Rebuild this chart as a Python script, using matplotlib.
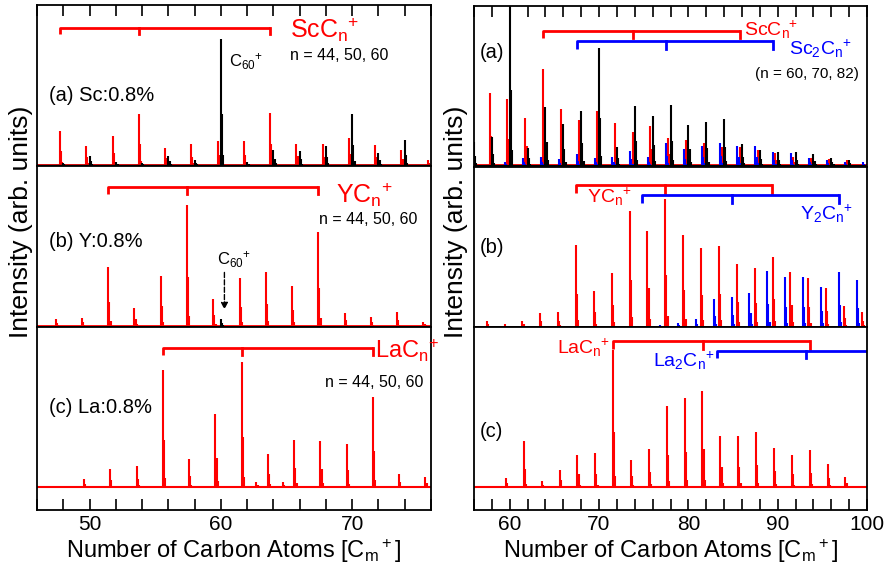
import numpy as np
import matplotlib
matplotlib.use('Agg')
import matplotlib.pyplot as plt
from matplotlib.ticker import MultipleLocator

plt.rcParams['font.family'] = ['Liberation Sans', 'DejaVu Sans']
plt.rcParams['mathtext.fontset'] = 'custom'
plt.rcParams['mathtext.rm'] = 'Liberation Sans'
plt.rcParams['mathtext.it'] = 'Liberation Sans:italic'
plt.rcParams['mathtext.default'] = 'regular'

RED = '#ff0000'
BLUE = '#0000ff'

# metal masses in carbon units (m/12)
sc_shift = 45 / 12
y_shift = 89 / 12
la_shift = 139 / 12
bracket_n = [44, 50, 60]
bracket_n2 = [60, 70, 82]

# ---- left column: (a) Sc, (b) Y, (c) La, peak heights in arb. units
sc_pos = [47.75, 49.75, 51.75, 53.75, 55.75, 57.75, 59.75, 61.75, 63.75,
          65.75, 67.75, 69.75, 71.75, 73.75, 75.75]
sc_hts = [101, 55, 87, 153, 49, 61, 71, 72, 155, 63, 61, 81, 58, 44, 15]
c_pos_a = [48, 50, 52, 54, 56, 58, 60, 62, 64, 66, 68, 70, 72, 74]
c_hts_a = [5, 27, 8, 6, 25, 15, 378, 7, 45, 40, 55, 151, 35, 75]

y_pos = [47.42, 49.42, 51.42, 53.42, 55.42, 57.42, 59.42, 61.42, 63.42,
         65.42, 67.42, 69.42, 71.42, 73.42, 75.42]
y_hts = [19, 24, 175, 52, 149, 362, 80, 142, 161, 119, 280, 39, 27, 42, 12]
c_pos_b = [60]
c_hts_b = [20]

la_pos = [49.58, 51.58, 53.58, 55.58, 57.58, 59.58, 61.58, 62.7, 63.58,
          64.7, 65.58, 67.58, 69.58, 71.58, 73.58, 75.58]
la_hts = [24, 54, 63, 351, 84, 219, 376, 16, 98, 15, 140, 138, 130, 270, 38, 31]

# ---- right column: wider mass range
sc_pos_r = [55.75, 57.75, 59.75, 61.75, 63.75, 65.75, 67.75, 69.75, 71.75,
            73.75, 75.75, 77.75, 79.75, 81.75, 83.75, 85.75, 87.75, 89.75,
            91.75, 93.75, 95.75, 97.75]
sc_hts_r = [100, 215, 197, 140, 288, 169, 135, 162, 125, 100, 117, 80, 75,
            65, 55, 55, 45, 35, 25, 20, 17, 15]
sc2_pos_r = [59.5, 61.5, 63.5, 65.5, 67.5, 69.5, 71.5, 73.5, 75.5, 77.5,
             79.5, 81.5, 83.5, 85.5, 87.5, 89.5, 91.5, 93.5, 95.5, 97.5, 99.5]
sc2_hts_r = [8, 20, 23, 17, 32, 20, 25, 42, 23, 65, 47, 58, 65, 58, 58, 38,
             35, 20, 15, 10, 8]
c_pos_r = [56, 58, 60, 62, 64, 66, 68, 70, 72, 74, 76, 78, 80, 82, 84, 86,
           88, 90, 92, 94, 96, 98]
c_hts_r = [70, 85, 560, 50, 175, 122, 162, 353, 55, 177, 147, 179, 120, 129,
           137, 63, 45, 40, 40, 33, 20, 15]

y_pos_r = [57.42, 59.42, 61.42, 63.42, 65.42, 67.42, 69.42, 71.42, 73.42,
           75.42, 77.42, 79.42, 81.42, 83.42, 85.42, 87.42, 89.42, 91.42,
           93.42, 95.42, 97.42, 99.42]
y_hts_r = [17, 8, 17, 42, 45, 245, 108, 160, 348, 287, 385, 277, 235, 243,
           187, 175, 208, 163, 145, 115, 62, 45]
y2_pos_r = [76.83, 78.83, 80.83, 82.83, 84.83, 86.83, 88.83, 90.83, 92.83,
            94.83, 96.83, 98.83]
y2_hts_r = [5, 10, 23, 83, 90, 102, 167, 149, 149, 120, 165, 140]

la_pos_r = [59.58, 61.58, 63.58, 65.58, 67.58, 69.58, 71.58, 73.58, 75.58,
            77.58, 79.58, 81.58, 83.58, 85.58, 87.58, 89.58, 91.58, 93.58,
            95.58, 97.58]
la_hts_r = [29, 139, 20, 52, 97, 102, 412, 82, 114, 245, 267, 290, 154, 154,
            167, 119, 97, 111, 71, 32]


def draw_peaks(ax, pos, hts, color, dx):
    pos = np.asarray(pos)
    hts = np.asarray(hts, dtype=float)
    ax.vlines(pos, 0, hts, color=color, lw=1.5)
    ax.vlines(pos + dx, 0, hts * 0.4, color=color, lw=1.5)
    ax.vlines(pos + 2 * dx, 0, hts * 0.08, color=color, lw=1.5)


def bracket(ax, xs, y, drop, color, right=None):
    x0, xm, x1 = xs
    xe = x1 if right is None else right
    ax.plot([x0, x0, xe], [y - drop, y, y], color=color, lw=2, solid_capstyle='butt')
    ax.plot([xm, xm], [y, y - drop], color=color, lw=2)
    ax.plot([x1, x1], [y, y - drop], color=color, lw=2)


def style_axis(ax, xlim, ylim, top, bottom):
    ax.set_xlim(*xlim)
    ax.set_ylim(*ylim)
    ax.set_yticks([])
    ax.xaxis.set_major_locator(MultipleLocator(10))
    ax.xaxis.set_minor_locator(MultipleLocator(2))
    ax.tick_params(axis='x', which='both', direction='in', top=top, bottom=bottom,
                   labelbottom=bottom, labelsize=15, width=1.2, length=8)
    for s in ax.spines.values():
        s.set_linewidth(1.3)


fig = plt.figure(figsize=(8.88, 5.72), dpi=100)
W, H = 888, 572


def add_ax(x0, x1, y0, y1):
    return fig.add_axes([x0 / W, 1 - y1 / H, (x1 - x0) / W, (y1 - y0) / H])


# ---------------- left column
la_ = add_ax(37, 431, 5, 166)
lb_ = add_ax(37, 431, 166, 327)
lc_ = add_ax(37, 431, 327, 510)
lx = (46, 76)

la_.axhline(0, color=RED, lw=1.3)
draw_peaks(la_, sc_pos, sc_hts, RED, 0.09)
draw_peaks(la_, c_pos_a, c_hts_a, 'black', 0.09)
la_.axhline(0, color='black', lw=1.0)
bracket(la_, [n + sc_shift for n in bracket_n], 411, 18, RED)
la_.text(46.94, 208, '(a) Sc:0.8%', fontsize=14.5, va='center')
la_.text(65.3, 381, r'$ScC_n\!{}^+$', color=RED, fontsize=18)
la_.text(65.3, 313, 'n = 44, 50, 60', fontsize=11.5)
la_.text(60.6, 293, r'$C_{60}\!{}^+$', fontsize=12)
style_axis(la_, lx, (-4, 479), True, False)

lb_.axhline(0, color=RED, lw=1.3)
draw_peaks(lb_, y_pos, y_hts, RED, 0.09)
draw_peaks(lb_, c_pos_b, c_hts_b, 'black', 0.09)
bracket(lb_, [n + y_shift for n in bracket_n], 415, 20, RED)
lb_.text(46.94, 237, '(b) Y:0.8%', fontsize=14.5)
lb_.text(68.75, 370, r'$YC_n\!{}^+$', color=RED, fontsize=18)
lb_.text(67.47, 304, 'n = 44, 50, 60', fontsize=11.5)
lb_.text(59.72, 182, r'$C_{60}\!{}^+$', fontsize=12)
lb_.annotate('', xy=(60.27, 40), xytext=(60.27, 168),
             arrowprops=dict(arrowstyle='-|>', ls='--', lw=1, color='black'))
style_axis(lb_, lx, (-4, 479), False, False)

lc_.axhline(0, color=RED, lw=1.5)
draw_peaks(lc_, la_pos, la_hts, RED, 0.09)
bracket(lc_, [n + la_shift for n in bracket_n], 418, 22, RED)
lc_.text(46.94, 221, '(c) La:0.8%', fontsize=14.5)
lc_.text(71.75, 386, r'$LaC_n\!{}^+$', color=RED, fontsize=17)
lc_.text(67.9, 301, 'n = 44, 50, 60', fontsize=11.5)
style_axis(lc_, lx, (-69, 480), False, True)
lc_.set_xlabel(r'Number of Carbon Atoms [$C_m{}^+$]', fontsize=17, labelpad=2)

# ---------------- right column
ra_ = add_ax(474, 867, 6, 167)
rb_ = add_ax(474, 867, 167, 327)
rc_ = add_ax(474, 867, 327, 510)
rx = (56, 100)

ra_.axhline(0, color=RED, lw=1.3)
draw_peaks(ra_, sc_pos_r, sc_hts_r, RED, 0.13)
draw_peaks(ra_, sc2_pos_r, sc2_hts_r, BLUE, 0.13)
draw_peaks(ra_, c_pos_r, c_hts_r, 'black', 0.13)
ra_.axhline(0, color='black', lw=0.8)
bracket(ra_, [n + sc_shift for n in bracket_n2], 402, 20, RED)
bracket(ra_, [n + 2 * sc_shift for n in bracket_n2], 373, 23, BLUE)
ra_.text(56.64, 323, '(a)', fontsize=14.5)
ra_.text(86.2, 390, r'$ScC_n\!{}^+$', color=RED, fontsize=14)
ra_.text(91.24, 332, r'$Sc_2C_n\!{}^+$', color=BLUE, fontsize=14)
ra_.text(87.5, 262, '(n = 60, 70, 82)', fontsize=11)
style_axis(ra_, rx, (-6, 478), True, False)

rb_.axhline(0, color=RED, lw=1.3)
draw_peaks(rb_, y_pos_r, y_hts_r, RED, 0.13)
draw_peaks(rb_, y2_pos_r, y2_hts_r, BLUE, 0.13)
rb_.axhline(0, color=BLUE, lw=0.8)
bracket(rb_, [n + y_shift for n in bracket_n2], 425, 22, RED)
bracket(rb_, [n + 2 * y_shift for n in bracket_n2], 395, 22, BLUE)
rb_.text(56.64, 220, '(b)', fontsize=14.5)
rb_.text(68.66, 373, r'$YC_n\!{}^+$', color=RED, fontsize=14)
rb_.text(92.55, 323, r'$Y_2C_n\!{}^+$', color=BLUE, fontsize=14)
style_axis(rb_, rx, (-1, 480), False, False)

rc_.axhline(0, color=RED, lw=1.5)
draw_peaks(rc_, la_pos_r, la_hts_r, RED, 0.13)
bracket(rc_, [n + la_shift for n in bracket_n2], 439, 24, RED)
bracket(rc_, [n + 2 * la_shift for n in bracket_n2], 409, 22, BLUE, right=100)
rc_.text(71.2, 402, r'$LaC_n\!{}^+$', color=RED, fontsize=14, ha='right')
rc_.text(82.9, 362, r'$La_2C_n\!{}^+$', color=BLUE, fontsize=14, ha='right')
rc_.text(56.64, 152, '(c)', fontsize=14.5)
style_axis(rc_, rx, (-68, 481), False, True)
rc_.set_xlabel(r'Number of Carbon Atoms [$C_m{}^+$]', fontsize=17, labelpad=2)

fig.text(0.024, 0.612, 'Intensity (arb. units)', rotation=90, fontsize=19,
         ha='center', va='center')
fig.text(0.513, 0.612, 'Intensity (arb. units)', rotation=90, fontsize=19,
         ha='center', va='center')

fig.savefig('out.png', dpi=100)
